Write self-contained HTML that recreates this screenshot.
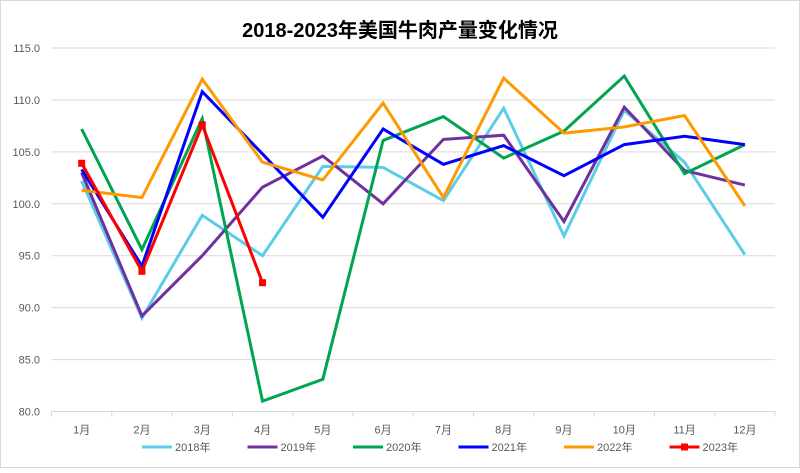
<!DOCTYPE html>
<html><head><meta charset="utf-8"><style>
body{margin:0;background:#fff}
svg text{font-family:"Liberation Sans","Noto Sans CJK SC",sans-serif}
</style></head><body>
<svg id="chart" width="800" height="468" xmlns="http://www.w3.org/2000/svg">
<rect x="0.5" y="0.5" width="799" height="467" fill="#fff" stroke="#d9d9d9"/>
<text x="400" y="37" text-anchor="middle" font-size="20" font-weight="bold" fill="#000">2018-2023年美国牛肉产量变化情况</text>
<g id="grid"></g><g id="lines"></g><g id="legend"></g>
</svg>
<script>
const months=["1月","2月","3月","4月","5月","6月","7月","8月","9月","10月","11月","12月"];
const yTicks=[80,85,90,95,100,105,110,115];
const seriesNames=["2018年","2019年","2020年","2021年","2022年","2023年"];
const seriesColors=["#5bcde8","#7030a0","#00a550","#0000ff","#ff9900","#ff0000"];
const s2018=[102.2,89.0,98.9,95.0,103.6,103.5,100.3,109.2,96.9,109.0,104.0,95.1];
const s2019=[103.0,89.2,95.0,101.6,104.6,100.0,106.2,106.6,98.3,109.3,103.2,101.8];
const s2020=[107.2,95.6,108.2,81.0,83.1,106.1,108.4,104.4,107.0,112.3,102.9,105.7];
const s2021=[103.3,94.0,110.8,104.8,98.7,107.2,103.8,105.6,102.7,105.7,106.5,105.7];
const s2022=[101.3,100.6,112.0,104.0,102.3,109.7,100.6,112.1,106.8,107.4,108.5,99.8];
const s2023=[103.9,93.5,107.6,92.4];
const allSeries=[s2018,s2019,s2020,s2021,s2022,s2023];
const NS="http://www.w3.org/2000/svg";
const L=51.5,R=775,T=48,B=411.5;
const x=i=>L+(R-L)/months.length*(i+0.5);
const y=v=>B-(v-80)/35*(B-T);
function mk(t,a,p){const e=document.createElementNS(NS,t);for(const k in a)e.setAttribute(k,a[k]);p.appendChild(e);return e;}
const grid=document.getElementById('grid');
yTicks.forEach(v=>{
  const l=mk('line',{x1:L,x2:R,y1:y(v),y2:y(v),stroke:'#d9d9d9','stroke-width':1},grid);
  
  
  const t=mk('text',{x:40,y:y(v)+4,'text-anchor':'end','font-size':11,fill:'#595959'},grid);
  t.textContent=v.toFixed(1);
  
  
});
for(let i=0;i<=months.length;i++){
  const xx=L+(R-L)/months.length*i;
  const tk=mk('line',{x1:xx,x2:xx,y1:B,y2:B+5,stroke:'#d9d9d9'},grid);
  
  
}
months.forEach((m,i)=>{
  const t=mk('text',{x:x(i),y:B+22,'text-anchor':'middle','font-size':11,fill:'#595959'},grid);
  t.textContent=m;
  
  
});
const lines=document.getElementById('lines');
allSeries.forEach((s,k)=>{
  const pl=mk('polyline',{points:s.map((v,i)=>x(i)+','+y(v)).join(' '),fill:'none',stroke:seriesColors[k],'stroke-width':3,'stroke-linejoin':'miter'},lines);
  
  
  if(k===5){s.forEach((v,i)=>{
    const r=mk('rect',{x:x(i)-3.5,y:y(v)-3.5,width:7,height:7,fill:seriesColors[k]},lines);
    
    
  });}
});
const lg=document.getElementById('legend');
const lx=[142,267,393,517,642,767-120];
seriesNames.forEach((n,k)=>{
  const x0=142+k*105.5;
  const g=mk('g',{},lg);
  
  
  mk('line',{x1:x0,x2:x0+30,y1:447,y2:447,stroke:seriesColors[k],'stroke-width':3},g);
  if(k===5)mk('rect',{x:x0+11.5,y:443.5,width:7,height:7,fill:seriesColors[k]},g);
  const t=mk('text',{x:x0+33,y:451,'font-size':11,fill:'#595959'},g);
  t.textContent=n;
});
</script>
</body></html>
